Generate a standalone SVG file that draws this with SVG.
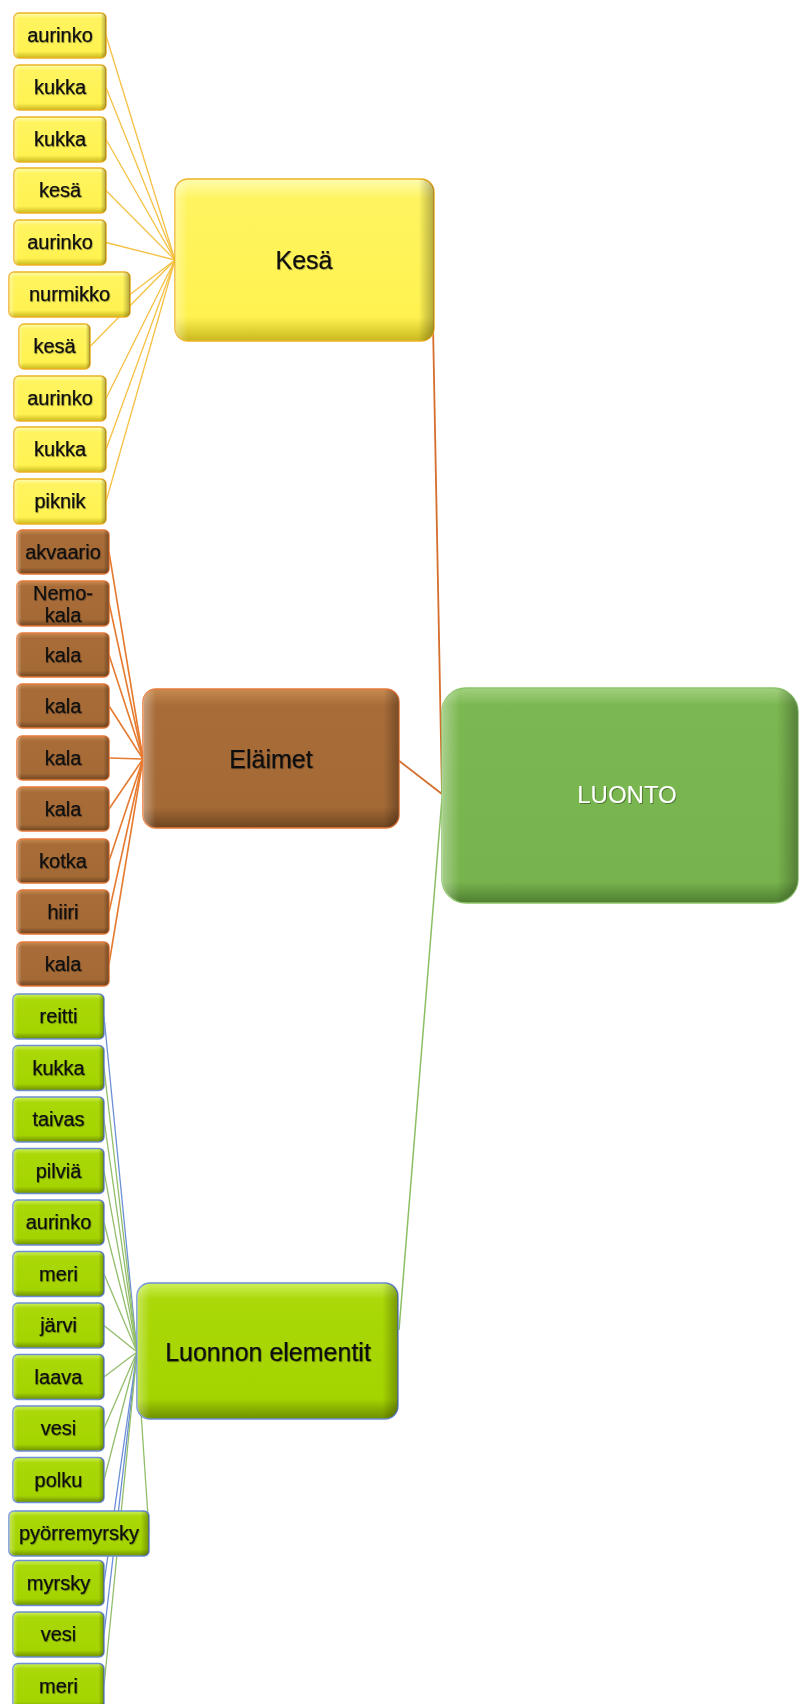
<svg xmlns="http://www.w3.org/2000/svg" width="800" height="1704" viewBox="0 0 800 1704">
<defs>
<linearGradient id="gy" x1="0" y1="0" x2="0" y2="1">
<stop offset="0" stop-color="#FFFCB0"/><stop offset="0.12" stop-color="#FFF460"/><stop offset="0.85" stop-color="#FFF250"/><stop offset="1" stop-color="#C9B820"/>
</linearGradient>
<linearGradient id="gb" x1="0" y1="0" x2="0" y2="1">
<stop offset="0" stop-color="#C58A50"/><stop offset="0.12" stop-color="#A86C38"/><stop offset="0.85" stop-color="#A46A36"/><stop offset="1" stop-color="#6E4520"/>
</linearGradient>
<linearGradient id="gg" x1="0" y1="0" x2="0" y2="1">
<stop offset="0" stop-color="#CDF05A"/><stop offset="0.12" stop-color="#AAD808"/><stop offset="0.85" stop-color="#A4D400"/><stop offset="1" stop-color="#6E8E00"/>
</linearGradient>
<linearGradient id="gl" x1="0" y1="0" x2="0" y2="1">
<stop offset="0" stop-color="#A2D07E"/><stop offset="0.08" stop-color="#7CB852"/><stop offset="0.9" stop-color="#78B44E"/><stop offset="1" stop-color="#4E7E30"/>
</linearGradient>
<linearGradient id="side" x1="0" y1="0" x2="1" y2="0">
<stop offset="0" stop-color="#FFFFFF" stop-opacity="0.35"/><stop offset="0.05" stop-color="#FFFFFF" stop-opacity="0"/><stop offset="0.94" stop-color="#000000" stop-opacity="0"/><stop offset="1" stop-color="#000000" stop-opacity="0.3"/>
</linearGradient>
<filter id="ts" x="-10%" y="-20%" width="120%" height="140%">
<feDropShadow dx="1" dy="1" stdDeviation="0.6" flood-color="#000" flood-opacity="0.35"/>
</filter>
<filter id="tk" x="-10%" y="-20%" width="120%" height="140%">
<feDropShadow dx="0.8" dy="0.8" stdDeviation="0.5" flood-color="#000" flood-opacity="0.3"/>
</filter>
</defs>
<style>
.y{fill:url(#gy);stroke:#EDB323;stroke-width:1.5}
.b{fill:url(#gb);stroke:#E8793A;stroke-width:1.5}
.g{fill:url(#gg);stroke:#6C8ED4;stroke-width:1.5}
.l{fill:url(#gl);stroke:#8CC46A;stroke-width:1.5}
.s{fill:url(#side);stroke:none}
text{font-family:"Liberation Sans",Arial,sans-serif;fill:#111;text-anchor:middle}
.t{font-size:20px;filter:url(#tk);stroke:#111;stroke-width:0.25}
.m{font-size:25px;filter:url(#tk);stroke:#111;stroke-width:0.25}
.w{font-size:24px;fill:#FFFFFF;filter:url(#ts)}
.cy{stroke:#F6C143;stroke-width:1.3;fill:none}
.cb{stroke:#E67A2E;stroke-width:1.6;fill:none}
.cg{stroke:#92BE6A;stroke-width:1.3;fill:none}
.cu{stroke:#6B8FD6;stroke-width:1.3;fill:none}
.co{stroke:#D66E2E;stroke-width:1.8;fill:none}
.cl{stroke:#8CBF64;stroke-width:1.5;fill:none}
</style>

<g id="connectors">
<line class="co" x1="433" y1="325" x2="442" y2="794"/>
<line class="co" x1="398" y1="760" x2="442" y2="794"/>
<line class="cl" x1="399" y1="1330" x2="442" y2="798"/>
<line class="cy" x1="106" y1="35.5" x2="175" y2="260"/>
<line class="cy" x1="106" y1="87.5" x2="175" y2="260"/>
<line class="cy" x1="106" y1="139.5" x2="175" y2="260"/>
<line class="cy" x1="106" y1="190.5" x2="175" y2="260"/>
<line class="cy" x1="106" y1="242.5" x2="175" y2="260"/>
<line class="cy" x1="130" y1="294.5" x2="175" y2="260"/>
<line class="cy" x1="90" y1="346.5" x2="175" y2="260"/>
<line class="cy" x1="106" y1="398.5" x2="175" y2="260"/>
<line class="cy" x1="106" y1="449.5" x2="175" y2="260"/>
<line class="cy" x1="106" y1="501.5" x2="175" y2="260"/>
<line class="cb" x1="109" y1="552" x2="143" y2="759"/>
<line class="cb" x1="109" y1="603" x2="143" y2="759"/>
<line class="cb" x1="109" y1="655" x2="143" y2="759"/>
<line class="cb" x1="109" y1="706" x2="143" y2="759"/>
<line class="cb" x1="109" y1="758" x2="143" y2="759"/>
<line class="cb" x1="109" y1="809" x2="143" y2="759"/>
<line class="cb" x1="109" y1="861" x2="143" y2="759"/>
<line class="cb" x1="109" y1="912" x2="143" y2="759"/>
<line class="cb" x1="109" y1="964" x2="143" y2="759"/>
<line class="cu" x1="104" y1="1016.5" x2="137" y2="1352"/>
<line class="cg" x1="104" y1="1068" x2="137" y2="1352"/>
<line class="cg" x1="104" y1="1119.5" x2="137" y2="1352"/>
<line class="cg" x1="104" y1="1171" x2="137" y2="1352"/>
<line class="cg" x1="104" y1="1222.5" x2="137" y2="1352"/>
<line class="cg" x1="104" y1="1274" x2="137" y2="1352"/>
<line class="cg" x1="104" y1="1325.5" x2="137" y2="1352"/>
<line class="cg" x1="104" y1="1377" x2="137" y2="1352"/>
<line class="cg" x1="104" y1="1428.5" x2="137" y2="1352"/>
<line class="cg" x1="104" y1="1480" x2="137" y2="1352"/>
<line class="cg" x1="149" y1="1531.5" x2="137" y2="1352"/>
<line class="cu" x1="104" y1="1583" x2="137" y2="1352"/>
<line class="cu" x1="104" y1="1634.5" x2="137" y2="1352"/>
<line class="cg" x1="104" y1="1686" x2="137" y2="1352"/>
</g>

<g id="luonto"><rect class="l" x="442" y="688" width="356" height="215" rx="24"/><rect class="s" x="442" y="688" width="356" height="215" rx="24"/><text class="w" x="627" y="803">LUONTO</text></g>
<g id="kesa"><rect class="y" x="175" y="179" width="259" height="162" rx="13"/><rect class="s" x="175" y="179" width="259" height="162" rx="13"/><text class="m" x="304" y="269">Kesä</text></g>
<g id="elaimet"><rect class="b" x="143" y="689" width="256" height="139" rx="13"/><rect class="s" x="143" y="689" width="256" height="139" rx="13"/><text class="m" x="271" y="768">Eläimet</text></g>
<g id="luonnon-elementit"><rect class="g" x="137" y="1283" width="261" height="136" rx="13"/><rect class="s" x="137" y="1283" width="261" height="136" rx="13"/><text class="m" x="268" y="1361">Luonnon elementit</text></g>

<g id="y1"><rect class="y" x="14" y="13" width="92" height="45" rx="5"/><rect class="s" x="14" y="13" width="92" height="45" rx="5"/><text class="t" x="60" y="42">aurinko</text></g>
<g id="y2"><rect class="y" x="14" y="65" width="92" height="45" rx="5"/><rect class="s" x="14" y="65" width="92" height="45" rx="5"/><text class="t" x="60" y="94">kukka</text></g>
<g id="y3"><rect class="y" x="14" y="117" width="92" height="45" rx="5"/><rect class="s" x="14" y="117" width="92" height="45" rx="5"/><text class="t" x="60" y="146">kukka</text></g>
<g id="y4"><rect class="y" x="14" y="168" width="92" height="45" rx="5"/><rect class="s" x="14" y="168" width="92" height="45" rx="5"/><text class="t" x="60" y="197">kesä</text></g>
<g id="y5"><rect class="y" x="14" y="220" width="92" height="45" rx="5"/><rect class="s" x="14" y="220" width="92" height="45" rx="5"/><text class="t" x="60" y="249">aurinko</text></g>
<g id="y6"><rect class="y" x="9" y="272" width="121" height="45" rx="5"/><rect class="s" x="9" y="272" width="121" height="45" rx="5"/><text class="t" x="69.5" y="301">nurmikko</text></g>
<g id="y7"><rect class="y" x="19" y="324" width="71" height="45" rx="5"/><rect class="s" x="19" y="324" width="71" height="45" rx="5"/><text class="t" x="54.5" y="353">kesä</text></g>
<g id="y8"><rect class="y" x="14" y="376" width="92" height="45" rx="5"/><rect class="s" x="14" y="376" width="92" height="45" rx="5"/><text class="t" x="60" y="405">aurinko</text></g>
<g id="y9"><rect class="y" x="14" y="427" width="92" height="45" rx="5"/><rect class="s" x="14" y="427" width="92" height="45" rx="5"/><text class="t" x="60" y="456">kukka</text></g>
<g id="y10"><rect class="y" x="14" y="479" width="92" height="45" rx="5"/><rect class="s" x="14" y="479" width="92" height="45" rx="5"/><text class="t" x="60" y="508">piknik</text></g>

<g id="b1"><rect class="b" x="17" y="530" width="92" height="44" rx="5"/><rect class="s" x="17" y="530" width="92" height="44" rx="5"/><text class="t" x="63" y="559">akvaario</text></g>
<g id="b2"><rect class="b" x="17" y="581" width="92" height="45" rx="5"/><rect class="s" x="17" y="581" width="92" height="45" rx="5"/><text class="t" x="63" y="600">Nemo-</text><text class="t" x="63" y="622">kala</text></g>
<g id="b3"><rect class="b" x="17" y="633" width="92" height="44" rx="5"/><rect class="s" x="17" y="633" width="92" height="44" rx="5"/><text class="t" x="63" y="662">kala</text></g>
<g id="b4"><rect class="b" x="17" y="684" width="92" height="44" rx="5"/><rect class="s" x="17" y="684" width="92" height="44" rx="5"/><text class="t" x="63" y="713">kala</text></g>
<g id="b5"><rect class="b" x="17" y="736" width="92" height="44" rx="5"/><rect class="s" x="17" y="736" width="92" height="44" rx="5"/><text class="t" x="63" y="765">kala</text></g>
<g id="b6"><rect class="b" x="17" y="787" width="92" height="44" rx="5"/><rect class="s" x="17" y="787" width="92" height="44" rx="5"/><text class="t" x="63" y="816">kala</text></g>
<g id="b7"><rect class="b" x="17" y="839" width="92" height="44" rx="5"/><rect class="s" x="17" y="839" width="92" height="44" rx="5"/><text class="t" x="63" y="868">kotka</text></g>
<g id="b8"><rect class="b" x="17" y="890" width="92" height="44" rx="5"/><rect class="s" x="17" y="890" width="92" height="44" rx="5"/><text class="t" x="63" y="919">hiiri</text></g>
<g id="b9"><rect class="b" x="17" y="942" width="92" height="44" rx="5"/><rect class="s" x="17" y="942" width="92" height="44" rx="5"/><text class="t" x="63" y="971">kala</text></g>

<g id="g1"><rect class="g" x="13" y="994" width="91" height="45" rx="5"/><rect class="s" x="13" y="994" width="91" height="45" rx="5"/><text class="t" x="58.5" y="1023">reitti</text></g>
<g id="g2"><rect class="g" x="13" y="1045.5" width="91" height="45" rx="5"/><rect class="s" x="13" y="1045.5" width="91" height="45" rx="5"/><text class="t" x="58.5" y="1074.5">kukka</text></g>
<g id="g3"><rect class="g" x="13" y="1097" width="91" height="45" rx="5"/><rect class="s" x="13" y="1097" width="91" height="45" rx="5"/><text class="t" x="58.5" y="1126">taivas</text></g>
<g id="g4"><rect class="g" x="13" y="1148.5" width="91" height="45" rx="5"/><rect class="s" x="13" y="1148.5" width="91" height="45" rx="5"/><text class="t" x="58.5" y="1177.5">pilviä</text></g>
<g id="g5"><rect class="g" x="13" y="1200" width="91" height="45" rx="5"/><rect class="s" x="13" y="1200" width="91" height="45" rx="5"/><text class="t" x="58.5" y="1229">aurinko</text></g>
<g id="g6"><rect class="g" x="13" y="1251.5" width="91" height="45" rx="5"/><rect class="s" x="13" y="1251.5" width="91" height="45" rx="5"/><text class="t" x="58.5" y="1280.5">meri</text></g>
<g id="g7"><rect class="g" x="13" y="1303" width="91" height="45" rx="5"/><rect class="s" x="13" y="1303" width="91" height="45" rx="5"/><text class="t" x="58.5" y="1332">järvi</text></g>
<g id="g8"><rect class="g" x="13" y="1354.5" width="91" height="45" rx="5"/><rect class="s" x="13" y="1354.5" width="91" height="45" rx="5"/><text class="t" x="58.5" y="1383.5">laava</text></g>
<g id="g9"><rect class="g" x="13" y="1406" width="91" height="45" rx="5"/><rect class="s" x="13" y="1406" width="91" height="45" rx="5"/><text class="t" x="58.5" y="1435">vesi</text></g>
<g id="g10"><rect class="g" x="13" y="1457.5" width="91" height="45" rx="5"/><rect class="s" x="13" y="1457.5" width="91" height="45" rx="5"/><text class="t" x="58.5" y="1486.5">polku</text></g>
<g id="g11"><rect class="g" x="9" y="1511" width="140" height="45" rx="5"/><rect class="s" x="9" y="1511" width="140" height="45" rx="5"/><text class="t" x="79" y="1540">pyörremyrsky</text></g>
<g id="g12"><rect class="g" x="13" y="1560.5" width="91" height="45" rx="5"/><rect class="s" x="13" y="1560.5" width="91" height="45" rx="5"/><text class="t" x="58.5" y="1589.5">myrsky</text></g>
<g id="g13"><rect class="g" x="13" y="1612" width="91" height="45" rx="5"/><rect class="s" x="13" y="1612" width="91" height="45" rx="5"/><text class="t" x="58.5" y="1641">vesi</text></g>
<g id="g14"><rect class="g" x="13" y="1663.5" width="91" height="45" rx="5"/><rect class="s" x="13" y="1663.5" width="91" height="45" rx="5"/><text class="t" x="58.5" y="1692.5">meri</text></g>
</svg>
